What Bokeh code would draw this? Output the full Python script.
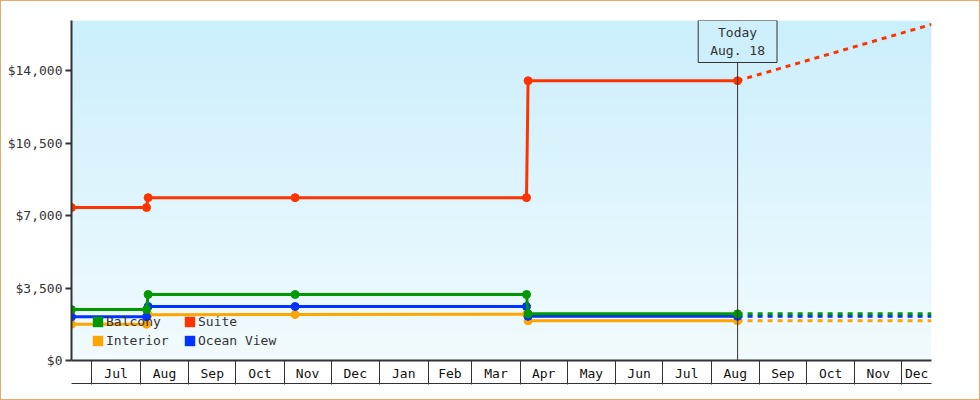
import numpy as np
import pandas as pd
from bokeh.plotting import figure
from bokeh.models import (Range1d, FixedTicker, NumeralTickFormatter, LinearAxis,
                          Legend, LegendItem, Span, Label)
from bokeh.embed import file_html
from bokeh.resources import INLINE

FONT = "DejaVu Sans Mono"
TXT = "#333333"

# ---------------- data ----------------
month_labels = ["Jul", "Aug", "Sep", "Oct", "Nov", "Dec", "Jan", "Feb", "Mar",
                "Apr", "May", "Jun", "Jul", "Aug", "Sep", "Oct", "Nov", "Dec"]
month_starts = ["2022-07-01", "2022-08-01", "2022-09-01", "2022-10-01", "2022-11-01",
                "2022-12-01", "2023-01-01", "2023-02-01", "2023-03-01", "2023-04-01",
                "2023-05-01", "2023-06-01", "2023-07-01", "2023-08-01", "2023-09-01",
                "2023-10-01", "2023-11-01", "2023-12-01"]
view_start = "2022-06-18"
view_end = "2023-12-20"
today = "2023-08-18"
today_text = "Today\nAug. 18"

y_ticks = [0, 3500, 7000, 10500, 14000]
y_max = 16430

hist_dates = ["2022-06-18", "2022-08-05", "2022-08-06", "2022-11-08",
              "2023-04-05", "2023-04-06", "2023-08-18"]
suite = [7390, 7390, 7870, 7870, 7870, 13520, 13520]
balcony = [2460, 2460, 3190, 3190, 3190, 2255, 2255]
ocean_view = [2110, 2110, 2610, 2610, 2610, 2135, 2135]
interior = [1750, 1750, 2210, 2220, 2240, 1915, 1915]

future_dates = ["2023-08-18", "2023-12-20"]
suite_future = [13520, 16240]
balcony_future = [2255, 2255]
ocean_view_future = [2135, 2135]
interior_future = [1915, 1915]

names = ["Balcony", "Suite", "Interior", "Ocean View"]
colors = {"Balcony": "#009900", "Suite": "#FF3300", "Interior": "#FFA500", "Ocean View": "#0033FF"}
hist = {"Balcony": balcony, "Suite": suite, "Interior": interior, "Ocean View": ocean_view}
future = {"Balcony": balcony_future, "Suite": suite_future,
          "Interior": interior_future, "Ocean View": ocean_view_future}
draw_order = ["Interior", "Ocean View", "Balcony", "Suite"]


def ms(d):
    return int(pd.Timestamp(d).value // 10**6)


x0, x1 = ms(view_start), ms(view_end)
starts_ms = [ms(d) for d in month_starts]
ends_ms = starts_ms[1:] + [x1]
label_pos = [(a + b) // 2 for a, b in zip(starts_ms, ends_ms)]

# ---------------- figure ----------------
p = figure(frame_width=860, frame_height=340, x_axis_type="datetime",
           x_range=Range1d(x0, x1), y_range=Range1d(0, y_max),
           output_backend="svg", toolbar_location=None,
           min_border_left=70, min_border_right=48, min_border_top=19,
           min_border_bottom=39, background_fill_color="white",
           border_fill_color="white")
p.outline_line_color = None
p.xgrid.visible = False
p.ygrid.visible = False
p.styles = {"border": "1px solid #E8A96A"}

# background gradient
rows = 340
t = np.linspace(0, 1, rows)[:, None]  # 0 bottom -> 1 top
bot = np.array([242, 251, 254])
top = np.array([203, 239, 252])
rgb = (bot + (top - bot) * t).astype(np.uint32)
img = (255 << 24) | (rgb[:, 2] << 16) | (rgb[:, 1] << 8) | rgb[:, 0]
img = img.reshape(rows, 1).astype(np.uint32)
p.image_rgba(image=[img], x=x0, y=0, dw=x1 - x0, dh=y_max, level="image")

# y axis
ya = p.yaxis[0]
ya.ticker = FixedTicker(ticks=y_ticks)
ya.formatter = NumeralTickFormatter(format="$0,0")
ya.major_tick_out = 6
ya.major_tick_in = 0
ya.major_tick_line_width = 2
ya.major_tick_line_color = TXT
ya.minor_tick_line_color = None
ya.axis_line_width = 2
ya.axis_line_color = TXT
ya.major_label_standoff = 3
ya.major_label_text_font = FONT
ya.major_label_text_font_size = "13px"
ya.major_label_text_color = TXT

# x axis: labels mid-month, separators at month starts
xa = p.xaxis[0]
xa.ticker = FixedTicker(ticks=label_pos, minor_ticks=starts_ms)
xa.major_label_overrides = {k: v for k, v in zip(label_pos, month_labels)}
xa.major_tick_out = 0
xa.major_tick_in = 0
xa.minor_tick_out = 24
xa.minor_tick_in = 0
xa.minor_tick_line_color = TXT
xa.minor_tick_line_width = 1
xa.axis_line_width = 2
xa.axis_line_color = TXT
xa.major_label_standoff = -19
xa.major_label_text_font = FONT
xa.major_label_text_font_size = "13px"
xa.major_label_text_color = "#111111"

xb = LinearAxis(ticker=FixedTicker(ticks=[]), major_tick_out=0, major_tick_in=0,
                minor_tick_out=0, minor_tick_in=0, major_label_text_font_size="0px",
                axis_line_color=TXT, axis_line_width=1)
p.add_layout(xb, "below")

# today marker
p.add_layout(Span(location=ms(today), dimension="height", line_color=TXT, line_width=1))

# series
for n in draw_order:
    c = colors[n]
    hd = pd.to_datetime(hist_dates)
    fd = pd.to_datetime(future_dates)
    p.line(fd, future[n], line_width=3, line_color=c, line_dash="5 5")
    p.line(hd, hist[n], line_width=3, line_color=c)
    p.scatter(hd, hist[n], size=8, fill_color=c, line_color=c)

p.add_layout(Label(x=ms(today), y=y_max, text=today_text, text_align="center",
                   text_baseline="top", text_font=FONT, text_font_size="13px",
                   text_color=TXT, background_fill_color="#CDEFFC",
                   border_line_color=TXT, border_line_width=1,
                   padding=dict(left=12, right=12, top=4, bottom=5)))

# legend (square swatches; swatch-only renderers carry no plotted data)
items = []
for n in names:
    r = p.quad(left=[np.nan], right=[np.nan], top=[np.nan], bottom=[np.nan],
               fill_color=colors[n], line_color=None)
    items.append(LegendItem(label=n, renderers=[r]))
legend = Legend(items=items, location=(20, 10), orientation="horizontal", ncols=2,
                glyph_width=13, glyph_height=13, label_standoff=2, label_width=77,
                label_height=19, spacing=0, padding=0, margin=0,
                background_fill_alpha=0, border_line_color=None,
                label_text_font=FONT, label_text_font_size="13px",
                label_text_color=TXT, level="underlay")
p.add_layout(legend)

open("out.html", "w").write(file_html(p, INLINE))
